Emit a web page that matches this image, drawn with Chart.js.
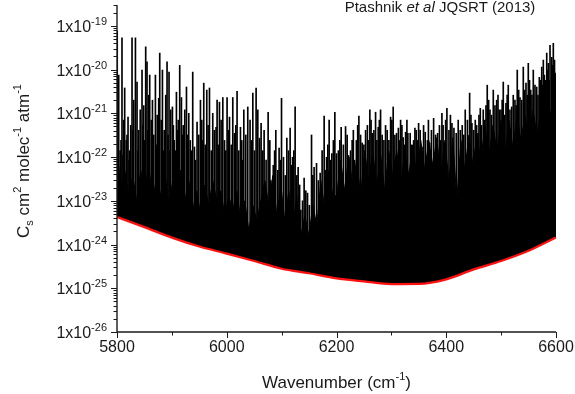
<!DOCTYPE html>
<html>
<head>
<meta charset="utf-8">
<script src="https://cdn.jsdelivr.net/npm/chart.js@4.4.1/dist/chart.umd.min.js"></script>
<style>
  html, body { margin: 0; padding: 0; background: #fff; }
  #wrap { width: 575px; height: 394px; }
</style>
</head>
<body>
<div id="wrap"><canvas id="chart" width="575" height="394"></canvas></div>
<script>
// continuum (red curve)
const contWn = [5800, 5850, 5900, 5950, 6000, 6050, 6100, 6150, 6200, 6250, 6300, 6350, 6400, 6450, 6500, 6550, 6600];
const contVal = [4.25e-24, 2.5e-24, 1.44e-24, 9.0e-25, 6.2e-25, 4.2e-25, 2.8e-25, 2.2e-25, 1.68e-25, 1.44e-25,
                 1.25e-25, 1.26e-25, 1.6e-25, 2.7e-25, 4.2e-25, 7.2e-25, 1.44e-24];

// unresolved floor of the spectrum (top of the solid black band)
const floorWn = [5800.0, 5806.7, 5814.0, 5821.3, 5828.6, 5835.9, 5843.2, 5850.5, 5857.8, 5865.1, 5872.4, 5879.7, 5887.0, 5894.3, 5901.6, 5908.9, 5916.2, 5923.5, 5930.8,
                 5938.0, 5945.3, 5952.6, 5959.9, 5967.2, 5974.5, 5981.8, 5989.1, 5996.4, 6003.7, 6011.0, 6018.3, 6025.6, 6032.9, 6040.2, 6047.5, 6054.8, 6062.1,
                 6069.4, 6076.6, 6083.9, 6091.2, 6098.5, 6105.8, 6113.1, 6120.4, 6127.7, 6135.0, 6142.3, 6149.6, 6156.9, 6164.2, 6171.5, 6178.8, 6186.1, 6193.4,
                 6200.3, 6207.6, 6214.9, 6222.2, 6229.5, 6236.8, 6244.1, 6251.4, 6258.7, 6266.0, 6273.3, 6280.6, 6287.9, 6295.2, 6302.5, 6309.8, 6317.1, 6324.4, 6331.7,
                 6339.0, 6346.3, 6353.6, 6360.9, 6368.2, 6375.5, 6382.8, 6390.1, 6397.4, 6404.7, 6412.0, 6419.3, 6426.7, 6434.0, 6441.3, 6448.6, 6455.9, 6463.2,
                 6470.5, 6477.8, 6485.1, 6492.4, 6499.7, 6507.0, 6514.3, 6521.6, 6528.9, 6536.2, 6543.5, 6550.8, 6558.1, 6565.4, 6572.7, 6580.0, 6587.3, 6594.6, 6600.0];
const floorVal = [1.4e-22, 2.3e-23, 5.0e-23, 1.3e-23, 3.8e-23, 1.0e-23, 5.0e-23, 1.7e-23, 6.5e-23, 1.0e-23, 3.8e-23, 1.3e-23, 5.0e-23, 7.9e-24, 2.9e-23, 1.3e-23, 5.0e-23, 1.0e-23, 2.9e-23,
                  6.1e-24, 1.7e-23, 4.7e-24, 2.3e-23, 7.9e-24, 2.9e-23, 1.0e-23, 1.7e-23, 4.7e-24, 1.3e-23, 6.1e-24, 1.7e-23, 3.6e-24, 1.0e-23, 2.1e-24, 7.9e-24, 3.6e-24, 1.0e-23,
                  2.9e-23, 7.9e-24, 3.8e-23, 4.7e-24, 2.3e-23, 3.6e-24, 1.7e-23, 2.7e-24, 1.3e-23, 1.6e-24, 4.7e-24, 1.6e-24, 7.9e-24, 2.7e-24, 2.9e-23, 6.1e-24, 5.0e-23, 1.3e-23,
                  1.3e-23, 8.5e-23, 1.7e-23, 1.1e-22, 2.3e-23, 8.5e-23, 1.3e-23, 1.4e-22, 2.9e-23, 1.4e-22, 2.3e-23, 1.1e-22, 1.7e-23, 1.4e-22, 3.8e-23, 1.4e-22, 2.3e-23, 1.4e-22, 3.8e-23,
                  1.9e-22, 3.8e-23, 2.4e-22, 5.0e-23, 2.4e-22, 6.5e-23, 2.8e-22, 3.8e-23, 2.4e-22, 2.9e-23, 2.8e-22, 1.0e-23, 2.4e-22, 5.0e-23, 3.2e-22, 6.5e-23, 3.2e-22, 8.5e-23,
                  5.3e-22, 1.1e-22, 5.3e-22, 1.4e-22, 7.0e-22, 1.1e-22, 7.0e-22, 1.6e-22, 9.1e-22, 2.4e-22, 9.1e-22, 2.4e-22, 1.2e-21, 3.2e-22, 1.2e-21, 4.1e-22, 1.5e-21, 5.3e-22, 1.2e-21];

// strong resolved lines (positions and peak values)
const strongWn = [5800.4, 5803.1, 5805.8, 5809.1, 5812.2, 5814.0, 5816.8, 5820.1, 5823.2, 5825.0, 5827.4, 5830.5, 5833.6, 5836.5, 5839.6, 5842.3,
                  5845.6, 5848.7, 5852.3, 5854.7, 5857.8, 5859.6, 5862.4, 5864.6, 5866.9, 5870.0, 5873.3, 5876.0, 5877.9, 5880.6, 5882.8, 5886.1,
                  5888.8, 5891.2, 5894.8, 5897.9, 5901.0, 5904.3, 5908.3, 5911.6, 5914.3, 5917.4, 5920.7, 5923.5, 5926.6, 5930.8, 5933.5,
                  5938.0, 5941.1, 5945.9, 5952.1, 5956.3, 5958.1, 5963.6, 5968.5, 5974.5, 5980.5, 5982.4, 5986.7, 5992.8, 5995.9, 6000.6,
                  6005.0, 6011.0, 6014.1, 6018.8, 6025.0, 6027.4, 6031.1, 6038.3, 6042.5, 6047.5, 6053.5, 6056.6, 6059.7, 6062.6,
                  6068.1, 6075.4, 6080.3, 6089.4, 6095.4, 6099.8, 6103.4, 6109.5, 6115.5, 6119.9, 6124.6, 6130.1, 6135.0, 6141.0, 6147.2,
                  6154.5, 6159.2, 6163.6, 6170.2, 6177.5, 6181.9, 6186.6, 6191.5, 6197.0,
                  6200.1, 6208.5, 6216.5, 6222.5, 6228.5, 6232.9, 6240.8, 6246.8, 6253.0, 6260.8, 6265.0, 6271.2, 6276.0, 6280.3, 6286.4,
                  6292.4, 6298.6, 6303.3, 6309.5, 6316.8, 6321.5, 6325.9, 6330.1,
                  6334.3, 6340.5, 6345.3, 6349.6, 6355.7, 6361.7, 6369.7, 6377.0, 6384.3, 6392.1, 6396.3, 6401.2, 6410.4, 6418.2, 6425.5,
                  6434.6, 6442.6, 6446.8, 6452.9, 6457.8, 6462.0,
                  6467.4, 6474.7, 6479.7, 6485.7, 6491.9, 6496.6, 6503.9, 6508.8, 6513.0, 6519.2, 6525.2, 6529.4, 6534.4, 6540.4, 6545.3,
                  6549.5, 6553.9, 6558.6, 6564.8, 6569.6, 6574.0, 6576.9, 6580.5, 6583.1, 6586.0, 6589.1, 6592.2, 6595.1, 6598.7];
const strongPeak = [7.6e-20, 7.5e-21, 1.4e-22, 5.3e-20, 7.0e-22, 3.8e-21, 2.4e-22, 8.2e-22, 1.4e-22, 5.3e-22, 5.3e-20, 2.0e-21, 5.3e-20, 5.2e-21, 4.1e-22, 1.2e-21,
                    9.7e-21, 1.5e-21, 3.3e-20, 1.5e-20, 2.6e-21, 7.5e-21, 7.0e-22, 2.0e-21, 3.2e-22, 7.5e-21, 9.1e-22, 2.2e-21, 2.4e-20, 7.0e-22, 9.7e-21, 4.1e-22,
                    2.6e-21, 1.5e-20, 8.8e-21, 1.2e-21, 1.4e-21, 2.4e-22, 3.05e-21, 7.0e-22, 1.26e-20, 2.3e-21, 5.3e-22, 1.2e-21, 4.0e-21, 1.0e-21, 2.4e-22,
                    8.8e-21, 1.7e-22, 6.3e-22, 2.0e-21, 2.4e-22, 4.9e-21, 3.4e-21, 3.8e-21, 1.0e-21, 4.8e-22, 2.0e-21, 1.8e-21, 2.3e-21, 2.4e-22, 2.3e-21,
                    8.2e-22, 2.3e-21, 3.5e-22, 3.2e-21, 4.8e-22, 2.4e-22, 1.2e-21, 1.4e-21, 7.0e-22, 2.9e-21, 3.8e-21, 1.2e-21, 2.7e-22, 5.9e-22,
                    4.1e-22, 1.06e-21, 2.9e-23, 4.1e-22, 1.6e-22, 2.2e-21, 9.9e-23, 2.7e-22, 4.6e-22, 9.9e-23, 1.4e-21, 5.8e-23, 6.1e-24, 3.3e-23, 1.5e-23,
                    3.2e-22, 5.8e-23, 7.2e-23, 4.3e-23, 8.6e-22, 9.9e-23, 7.0e-22, 1.2e-22, 1.06e-21,
                    1.2e-22, 4.8e-22, 5.0e-22, 9.9e-23, 2.4e-22, 8.5e-23, 8.6e-22, 2.1e-22, 4.1e-22, 1.2e-21, 3.5e-22, 1.06e-21, 4.8e-22, 1.2e-21, 2.4e-22,
                    4.1e-22, 8.2e-22, 1.4e-21, 3.5e-22, 7.0e-22, 2.8e-22, 3.7e-22, 3.5e-22,
                    3.5e-22, 2.4e-22, 4.1e-22, 5.9e-22, 1.7e-22, 3.7e-22, 2.1e-22, 7.7e-22, 3.5e-22, 1.0e-21, 2.1e-22, 1.3e-21, 5.9e-22, 3.5e-22, 4.1e-22,
                    1.2e-21, 2.9e-21, 5.9e-22, 7.0e-22, 3.5e-22, 1.3e-21,
                    1.2e-21, 4.4e-21, 1.2e-21, 3.4e-21, 2.0e-21, 1.2e-21, 5.2e-21, 1.7e-21, 4.4e-21, 1.4e-21, 2.0e-21, 9.7e-21, 2.3e-21, 1.14e-20, 4.9e-21,
                    1.4e-20, 3.4e-21, 9.7e-21, 4.0e-21, 6.7e-21, 1.14e-20, 1.65e-20, 5.7e-21, 2.4e-20, 1.4e-20, 3.6e-20, 1.9e-20, 4.0e-20, 8.3e-21];

// weaker lines filling the dense band
const weakWn = [5801.8, 5807.3, 5810.8, 5818.2, 5821.9, 5829.0, 5838.2, 5847.2, 5850.5, 5856.3, 5871.7, 5874.8, 5884.4, 5893.0, 5896.5, 5902.7,
                5906.3, 5910.0, 5913.1, 5919.1, 5922.2, 5928.6,
                5935.3, 5943.2, 5949.0, 5954.5, 5960.8, 5966.0, 5971.8, 5977.4, 5984.5, 5989.7, 5998.2, 6002.8, 6008.3, 6016.5, 6021.9, 6029.2,
                6034.7, 6044.9, 6050.6, 6064.8,
                6065.7, 6071.7, 6078.5, 6084.8, 6087.2, 6093.1, 6097.6, 6106.7, 6112.6, 6117.7, 6122.2, 6127.7, 6132.8, 6138.1, 6144.1, 6150.5,
                6156.9, 6166.9, 6173.8, 6179.7, 6184.2, 6189.1, 6194.3,
                6203.4, 6206.1, 6212.5, 6219.4, 6225.6, 6230.7, 6236.2, 6238.6, 6243.9, 6249.9, 6256.3, 6259.0, 6263.0, 6268.1, 6273.6, 6278.1,
                6283.2, 6289.4, 6295.5, 6300.9, 6306.4, 6312.8, 6315.0, 6319.2, 6323.7, 6328.3,
                6337.0, 6342.9, 6347.4, 6352.5, 6358.7, 6365.7, 6367.5, 6373.0, 6380.6, 6387.6, 6389.9, 6394.3, 6398.9, 6404.9, 6407.6, 6414.0,
                6421.8, 6429.1, 6431.9, 6438.6, 6445.0, 6449.9, 6455.4, 6459.6, 6464.2,
                6470.2, 6472.4, 6477.3, 6482.4, 6488.8, 6494.3, 6499.7, 6501.9, 6506.5, 6511.0, 6516.1, 6522.1, 6527.4, 6532.0, 6537.5, 6542.9,
                6547.5, 6551.7, 6556.2, 6561.7, 6567.2, 6571.7, 6575.4, 6578.7, 6584.5, 6587.6, 6593.6, 6597.3];
const weakPeak = [7.0e-22, 2.4e-22, 1.1e-22, 3.2e-22, 8.5e-23, 4.1e-22, 1.4e-22, 5.3e-22, 2.4e-22, 4.1e-22, 1.9e-22, 7.0e-22, 1.4e-22, 3.2e-22, 1.4e-22, 5.3e-22,
                  1.4e-22, 4.1e-22, 1.9e-22, 3.2e-22, 1.4e-22, 3.2e-22,
                  1.4e-22, 8.5e-23, 3.2e-22, 7.0e-22, 1.9e-22, 5.3e-22, 1.4e-22, 4.1e-22, 1.9e-22, 7.0e-22, 1.4e-22, 4.1e-22, 1.9e-22, 5.3e-22, 1.4e-22, 8.5e-23,
                  3.2e-22, 2.4e-22, 1.4e-22, 8.5e-23,
                  1.4e-22, 8.5e-23, 2.4e-22, 6.5e-23, 1.4e-22, 5.0e-23, 8.5e-23, 3.8e-23, 1.4e-22, 6.5e-23, 1.4e-22, 3.8e-23, 2.3e-23, 1.0e-23, 1.7e-23, 7.9e-24,
                  3.8e-23, 2.9e-23, 1.4e-22, 5.0e-23, 1.9e-22, 8.5e-23, 2.4e-22,
                  1.4e-22, 2.4e-22, 1.9e-22, 3.2e-22, 1.4e-22, 4.1e-22, 2.4e-22, 5.3e-22, 3.2e-22, 1.9e-22, 5.3e-22, 2.4e-22, 7.0e-22, 4.1e-22, 2.4e-22, 7.0e-22,
                  3.2e-22, 5.3e-22, 2.4e-22, 7.0e-22, 3.2e-22, 4.6e-22, 2.4e-22, 5.3e-22, 1.9e-22, 7.0e-22,
                  1.9e-22, 4.6e-22, 2.4e-22, 4.1e-22, 5.3e-22, 2.4e-22, 7.0e-22, 4.1e-22, 3.2e-22, 5.3e-22, 2.4e-22, 5.3e-22, 7.0e-22, 4.1e-22, 9.1e-22, 4.6e-22,
                  7.0e-22, 5.3e-22, 3.2e-22, 7.0e-22, 9.1e-22, 4.1e-22, 5.3e-22, 9.1e-22, 5.3e-22,
                  7.0e-22, 1.5e-21, 2.0e-21, 9.1e-22, 1.5e-21, 2.6e-21, 1.2e-21, 2.0e-21, 9.1e-22, 2.6e-21, 1.2e-21, 2.6e-21, 1.5e-21, 3.4e-21, 2.0e-21, 3.4e-21,
                  2.6e-21, 5.7e-21, 2.6e-21, 4.4e-21, 2.6e-21, 5.7e-21, 4.4e-21, 7.5e-21, 9.7e-21, 5.7e-21, 1.26e-20, 1.65e-20];

const xMajor = [5800, 6000, 6200, 6400, 6600];
const xMinor = [5900, 6100, 6300, 6500];
const yDecades = [-26, -25, -24, -23, -22, -21, -20, -19];
const Y_MIN = 1e-26, Y_MAX = 3e-19;

const FONT = '"Liberation Sans", Arial, Helvetica, sans-serif';

function drawParts(ctx, parts, x, y) {
  // parts: [text, size, dy, style]
  let cx = x;
  parts.forEach(p => {
    ctx.font = (p[3] || '') + ' ' + p[1] + 'px ' + FONT;
    ctx.fillText(p[0], cx, y + p[2]);
    cx += ctx.measureText(p[0]).width;
  });
}
function partsWidth(ctx, parts) {
  let w = 0;
  parts.forEach(p => {
    ctx.font = (p[3] || '') + ' ' + p[1] + 'px ' + FONT;
    w += ctx.measureText(p[0]).width;
  });
  return w;
}

const axesPlugin = {
  id: 'axesPlugin',
  afterDraw(chart) {
    const ctx = chart.ctx;
    const a = chart.chartArea;
    const xs = chart.scales.x, ys = chart.scales.y;
    ctx.save();
    ctx.strokeStyle = '#1a1a1a';
    ctx.fillStyle = '#1a1a1a';

    // y ticks
    ctx.lineWidth = 1;
    yDecades.forEach(e => {
      for (let k = 1; k <= 9; k++) {
        const v = k * Math.pow(10, e);
        if (v > Y_MAX * 1.001) break;
        const py = Math.round(ys.getPixelForValue(v)) + 0.5;
        const len = k === 1 ? 6 : 3.5;
        ctx.beginPath();
        ctx.moveTo(a.left, py);
        ctx.lineTo(a.left - len, py);
        ctx.stroke();
      }
    });
    // x ticks
    xMajor.concat(xMinor).forEach(v => {
      const px = Math.round(xs.getPixelForValue(v)) + 0.5;
      const len = xMajor.includes(v) ? 6 : 3.5;
      ctx.beginPath();
      ctx.moveTo(px, a.bottom);
      ctx.lineTo(px, a.bottom + len);
      ctx.stroke();
    });

    // axis lines
    ctx.lineWidth = 1.4;
    ctx.beginPath();
    ctx.moveTo(a.left, a.top);
    ctx.lineTo(a.left, a.bottom);
    ctx.lineTo(a.right, a.bottom);
    ctx.stroke();

    // y tick labels 1x10^n
    ctx.textBaseline = 'alphabetic';
    yDecades.forEach(e => {
      const py = ys.getPixelForValue(Math.pow(10, e));
      const parts = [['1x10', 16, 6], [String(e), 11, -1]];
      const w = partsWidth(ctx, parts);
      drawParts(ctx, parts, a.left - 10 - w, py);
    });

    // x tick labels
    ctx.font = '16px ' + FONT;
    ctx.textAlign = 'center';
    xMajor.forEach(v => {
      ctx.fillText(String(v), xs.getPixelForValue(v), a.bottom + 20);
    });
    ctx.textAlign = 'left';

    // x axis title
    const xt = [['Wavenumber (cm', 17, 0], ['-1', 11, -8], [')', 17, 0]];
    const xw = partsWidth(ctx, xt);
    drawParts(ctx, xt, (a.left + a.right) / 2 - xw / 2, 388);

    // y axis title
    const yt = [['C', 17, 0], ['s', 11, 4], [' cm', 17, 0], ['2', 11, -8], [' molec', 17, 0], ['-1', 11, -8], [' atm', 17, 0], ['-1', 11, -8]];
    const yw = partsWidth(ctx, yt);
    ctx.save();
    ctx.translate(29, 161);
    ctx.rotate(-Math.PI / 2);
    drawParts(ctx, yt, -yw / 2, 0);
    ctx.restore();

    // annotation
    const tt = [['Ptashnik ', 15, 0], ['et al', 15, 0, 'italic'], [' JQSRT (2013)', 15, 0]];
    const tw = partsWidth(ctx, tt);
    drawParts(ctx, tt, 440 - tw / 2, 12);

    ctx.restore();
  }
};

const sticks = strongWn.map((w, i) => ({ x: w, y: [Y_MIN, strongPeak[i]] }))
  .concat(weakWn.map((w, i) => ({ x: w, y: [Y_MIN, weakPeak[i]] })));
const floor = floorWn.map((w, i) => ({ x: w, y: floorVal[i] }));
const cont = contWn.map((w, i) => ({ x: w, y: contVal[i] }));

new Chart(document.getElementById('chart').getContext('2d'), {
  type: 'line',
  data: {
    datasets: [
      {
        label: 'continuum',
        data: cont,
        order: 0,
        borderColor: '#ff1010',
        borderWidth: 2.2,
        backgroundColor: '#ffffff',
        fill: 'start',
        pointRadius: 0,
        cubicInterpolationMode: 'monotone'
      },
      {
        label: 'floor',
        data: floor,
        order: 1,
        borderColor: '#000000',
        borderWidth: 1,
        backgroundColor: '#000000',
        fill: 'start',
        pointRadius: 0,
        tension: 0
      },
      {
        type: 'bar',
        label: 'lines',
        data: sticks,
        order: 2,
        backgroundColor: '#000000',
        borderWidth: 0,
        barThickness: 1,
        grouped: false
      }
    ]
  },
  options: {
    responsive: false,
    animation: false,
    events: [],
    layout: { padding: { left: 117, right: 19, top: 5, bottom: 62 } },
    scales: {
      x: { type: 'linear', min: 5800, max: 6600, offset: false, display: false },
      y: { type: 'logarithmic', min: Y_MIN, max: Y_MAX, display: false }
    },
    plugins: {
      legend: { display: false },
      tooltip: { enabled: false }
    }
  },
  plugins: [axesPlugin]
});
</script>
</body>
</html>
